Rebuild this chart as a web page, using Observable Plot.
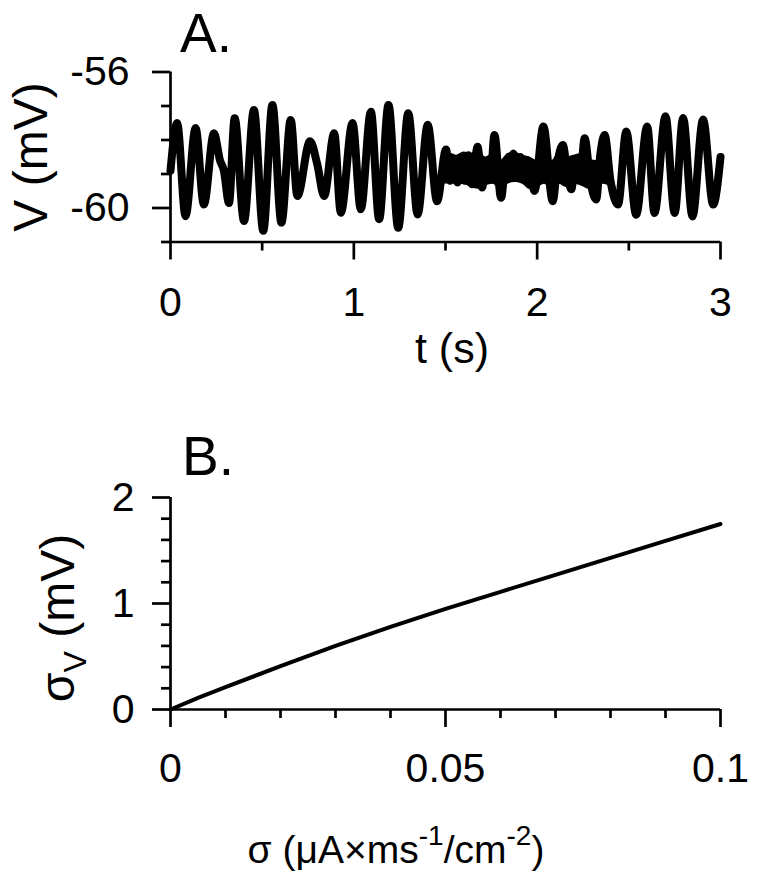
<!DOCTYPE html>
<html><head><meta charset="utf-8">
<script src="https://cdn.jsdelivr.net/npm/d3@7"></script>
<script src="https://cdn.jsdelivr.net/npm/@observablehq/plot@0.6"></script>
<style>
html,body{margin:0;padding:0;background:#fff;}
#wrap{width:758px;height:876px;position:relative;overflow:hidden;background:#fff;}
#wrap svg{display:block;}
</style></head><body><div id="wrap"></div>
<script>
// ---------- Panel A: membrane potential trace ----------
const timeA = [0, 0.036, 0.082, 0.137, 0.182, 0.237, 0.27, 0.291, 0.319, 0.350, 0.401, 0.455, 0.506, 0.556, 0.605, 0.656, 0.692, 0.761, 0.80, 0.838, 0.893, 0.929, 0.993, 1.038, 1.093, 1.138, 1.189, 1.242, 1.297, 1.348, 1.403, 1.454, 1.503,
  1.525, 1.545, 1.565, 1.585, 1.605, 1.625, 1.645, 1.675, 1.70, 1.72, 1.745, 1.767, 1.803, 1.83, 1.85, 1.87, 1.89, 1.91, 1.93, 1.95, 1.985,
  2.034, 2.085, 2.11, 2.14, 2.165, 2.186, 2.21, 2.235, 2.259, 2.29, 2.322, 2.345, 2.368, 2.40, 2.441,
  2.486, 2.54, 2.60, 2.64, 2.70, 2.75, 2.796, 2.847, 2.905, 2.96, 3.0];
const voltA = [-58.9, -57.50, -60.24, -57.65, -59.90, -57.80, -58.6, -58.9, -59.85, -57.36, -60.38, -57.12, -60.67, -56.97, -60.43, -57.41, -59.65, -58.04, -58.7, -59.65, -57.80, -60.14, -57.50, -60.04, -57.17, -60.33, -56.97, -60.58, -57.21, -60.19, -57.55, -59.80, -58.28,
  -59.2, -58.55, -59.25, -58.5, -59.2, -58.45, -59.3, -58.2, -59.4, -58.7, -59.15, -57.85, -59.7, -58.6, -59.1, -58.4, -59.0, -58.5, -59.1, -58.6, -59.5,
  -57.6, -59.8, -58.7, -58.15, -59.0, -59.45, -58.6, -59.1, -57.95, -59.2, -59.75, -58.4, -57.85, -59.2, -59.9,
  -57.75, -60.2, -57.6, -60.15, -57.3, -60.15, -57.35, -60.25, -57.4, -59.9, -58.5];
// noisy core band of the quiet stretch (upper / lower edge of the black band)
const quietT  = [1.48, 1.50, 1.53, 1.56, 1.60, 1.64, 1.68, 1.72, 1.76, 1.80, 1.84, 1.88, 1.92, 1.96, 2.00, 2.04, 2.08, 2.12, 2.16, 2.20, 2.24, 2.28, 2.32, 2.36, 2.40, 2.43];
const quietHi = [-58.8, -58.4, -58.4, -58.45, -58.35, -58.4, -58.3, -58.5, -58.4, -58.6, -58.4, -58.35, -58.45, -58.5, -58.6, -58.4, -58.6, -58.35, -58.5, -58.45, -58.4, -58.55, -58.6, -58.45, -58.75, -59.4];
const quietLo = [-59.0, -59.3, -59.25, -59.35, -59.3, -59.4, -59.45, -59.35, -59.3, -59.5, -59.3, -59.25, -59.3, -59.45, -59.4, -59.3, -59.5, -59.3, -59.4, -59.3, -59.35, -59.45, -59.5, -59.3, -59.4, -59.6];
const tTicksMajor = [0, 1, 2, 3];
const tTicksMinor = [0.5, 1.5, 2.5];
const vTicksMajor = [-56, -60];
const vTicksMinor = [-57, -58, -59, -61];

// ---------- Panel B: sigma_V vs sigma ----------
const sigmaIn = [0, 0.005, 0.01, 0.02, 0.03, 0.04, 0.05, 0.06, 0.07, 0.08, 0.09, 0.1];
const sigmaV  = [0, 0.11, 0.21, 0.41, 0.60, 0.78, 0.95, 1.11, 1.27, 1.43, 1.59, 1.75];
const sTicksMajor = [0, 0.05, 0.1];
const sTicksMinor = [0.01, 0.02, 0.03, 0.04, 0.06, 0.07, 0.08, 0.09];
const svTicksMajor = [0, 1, 2];
const svTicksMinor = [0.2, 0.4, 0.6, 0.8, 1.2, 1.4, 1.6, 1.8];

const FONT = "'Liberation Sans', Arial, Helvetica, sans-serif";
const AX = 2.7;
const traceA = timeA.map((t, i) => ({t, v: voltA[i]}));
const bandA = quietT.map((t, i) => ({t, hi: quietHi[i], lo: quietLo[i]}));
const curveB = sigmaIn.map((s, i) => ({s, sv: sigmaV[i]}));

const plotA = Plot.plot({
  width: 758, height: 400,
  marginLeft: 170, marginRight: 38, marginTop: 71.5, marginBottom: 158.5,
  x: {domain: [0, 3], axis: null},
  y: {domain: [-61, -56], axis: null},
  style: {fontFamily: FONT, color: "#000", background: "#fff", overflow: "visible"},
  marks: [
    Plot.areaY(bandA, {x: "t", y1: "lo", y2: "hi", curve: "monotone-x", fill: "#000"}),
    Plot.line(traceA, {x: "t", y: "v", curve: "monotone-x", stroke: "#000", strokeWidth: 8, strokeLinejoin: "round"}),
    Plot.ruleY([-61], {stroke: "#000", strokeWidth: AX}),
    Plot.ruleX([0], {stroke: "#000", strokeWidth: AX}),
    Plot.axisX({ticks: tTicksMajor, tickSize: 18, tickPadding: 27, tickFormat: d => String(d), fontSize: 41, strokeWidth: AX, label: null}),
    Plot.axisX({ticks: tTicksMinor, tickSize: 9, tickFormat: () => "", strokeWidth: AX, label: null}),
    Plot.axisY({ticks: vTicksMajor, tickSize: 18, tickPadding: 23, tickFormat: d => String(d), fontSize: 41, strokeWidth: AX, label: null}),
    Plot.axisY({ticks: vTicksMinor, tickSize: 9, tickFormat: () => "", strokeWidth: AX, label: null})
  ]
});

const plotB = Plot.plot({
  width: 758, height: 476,
  marginLeft: 170, marginRight: 38, marginTop: 97, marginBottom: 167,
  x: {domain: [0, 0.1], axis: null},
  y: {domain: [0, 2], axis: null},
  style: {fontFamily: FONT, color: "#000", background: "#fff", overflow: "visible"},
  marks: [
    Plot.line(curveB, {x: "s", y: "sv", stroke: "#000", strokeWidth: 4}),
    Plot.ruleY([0], {stroke: "#000", strokeWidth: AX}),
    Plot.ruleX([0], {stroke: "#000", strokeWidth: AX}),
    Plot.axisX({ticks: sTicksMajor, tickSize: 18, tickPadding: 25, tickFormat: d => String(d), fontSize: 41, strokeWidth: AX, label: null}),
    Plot.axisX({ticks: sTicksMinor, tickSize: 9, tickFormat: () => "", strokeWidth: AX, label: null}),
    Plot.axisY({ticks: svTicksMajor, tickSize: 18, tickPadding: 18, tickFormat: d => String(d), fontSize: 41, strokeWidth: AX, label: null}),
    Plot.axisY({ticks: svTicksMinor, tickSize: 9, tickFormat: () => "", strokeWidth: AX, label: null})
  ]
});

const wrap = document.getElementById("wrap");
wrap.appendChild(plotA);
wrap.appendChild(plotB);

// ---------- titles & axis labels ----------
function addText(svg, x, y, size, str, opts = {}) {
  const t = d3.select(svg).append("text")
    .attr("x", x).attr("y", y)
    .attr("font-family", FONT).attr("font-size", size)
    .attr("fill", "#000")
    .attr("text-anchor", opts.anchor || "start");
  if (opts.rotate) t.attr("transform", `rotate(-90, ${x}, ${y})`);
  if (str != null) t.text(str);
  return t;
}
addText(plotA, 180, 52, 55, "A.");
addText(plotA, 452, 363, 43, "t (s)", {anchor: "middle"});
addText(plotA, 47, 157, 48, "V (mV)", {anchor: "middle", rotate: true});

addText(plotB, 182, 75, 55, "B.");
const xl = addText(plotB, 396, 463, 39, null, {anchor: "middle"});
xl.append("tspan").text("σ (μA×ms");
xl.append("tspan").attr("font-size", 28).attr("dy", -18).text("-1");
xl.append("tspan").attr("dy", 18).text("/cm");
xl.append("tspan").attr("font-size", 28).attr("dy", -18).text("-2");
xl.append("tspan").attr("dy", 18).text(")");

const yl = addText(plotB, 74, 218, 48, null, {anchor: "middle", rotate: true});
yl.append("tspan").text("σ");
yl.append("tspan").attr("font-size", 32).attr("dy", 12).text("V");
yl.append("tspan").attr("dy", -12).text(" (mV)");
</script>
</body></html>
